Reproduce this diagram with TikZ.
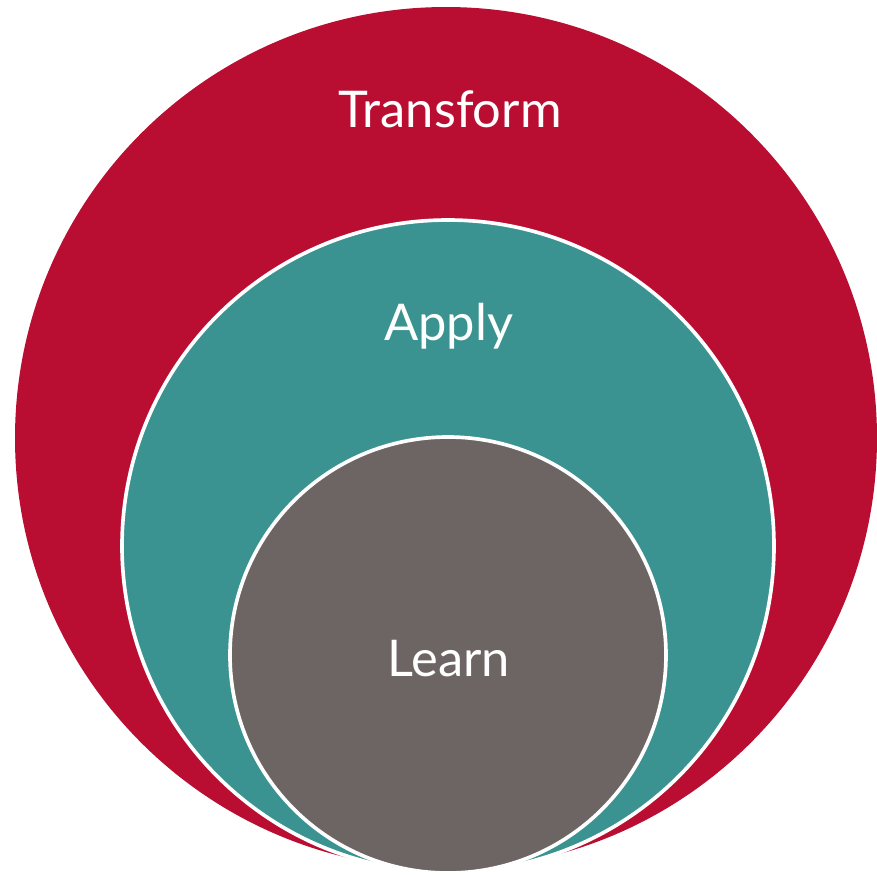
\documentclass[tikz,border=0pt]{standalone}
\usepackage{fontspec}
\setmainfont{Lato}
\usepackage{tikz}

\definecolor{ringred}{HTML}{B90E31}
\definecolor{ringteal}{HTML}{3A9390}
\definecolor{ringgrey}{HTML}{6C6563}

\tikzset{
	ring/.style={circle,inner sep=0pt,line width=2.6pt},
	ringtext/.style={text=white,anchor=base,font=\fontsize{36}{40}\selectfont}
}

\begin{document}
\begin{tikzpicture}[scale=1,auto=center]
			\useasboundingbox (0,0) rectangle (21.925,-21.875);
			\node[ring,fill=ringred,minimum size=21.55cm] (transform) at (11.15,-10.95) {};
			\node[ring,fill=ringteal,draw=white,minimum size=16.3cm] (apply) at (11.2,-13.65) {};
			\node[ring,fill=ringgrey,draw=white,minimum size=10.9cm] (learn) at (11.2,-16.375) {};
			\node[ringtext] (transformtext) at (11.25,-3.18) {Transform};
			\node[ringtext] (applytext) at (11.22,-8.52) {Apply};
			\node[ringtext] (learntext) at (11.22,-16.92) {Learn};
		\end{tikzpicture}
\end{document}
